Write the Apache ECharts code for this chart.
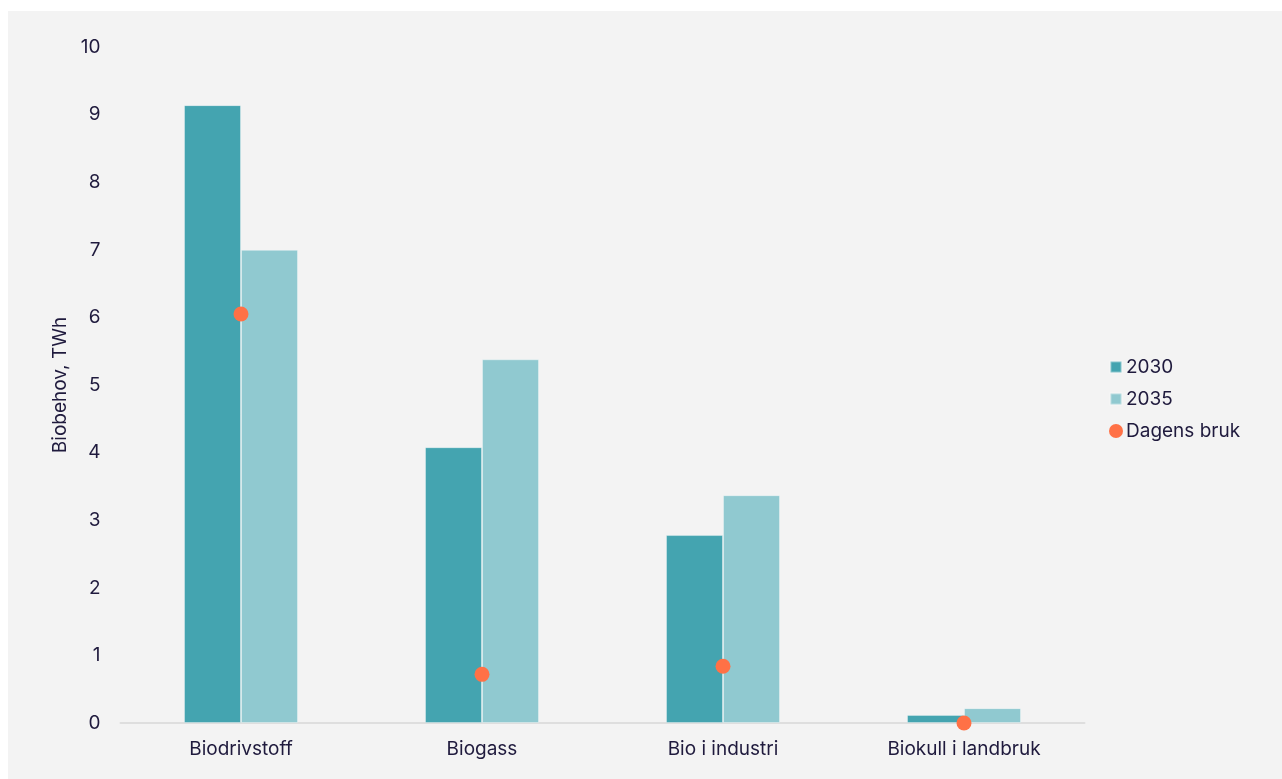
<!DOCTYPE html>
<html>
<head>
<meta charset="utf-8">
<script src="https://cdn.jsdelivr.net/npm/echarts@6/dist/echarts.min.js"></script>
<style>
  html, body { margin: 0; padding: 0; background: #ffffff; }
  #chart { position: absolute; left: 8px; top: 11px; width: 1274px; height: 768px; background: #f3f3f3; }
</style>
</head>
<body>
<div id="chart"></div>
<script>
// Bioenergy demand per use (TWh)
const categories = ['Biodrivstoff', 'Biogass', 'Bio i industri', 'Biokull i landbruk'];
const demand2030 = [9.14, 4.08, 2.78, 0.12];
const demand2035 = [7.0, 5.38, 3.37, 0.22];
const currentUse = [6.05, 0.72, 0.84, 0.0];
const yTicks = { min: 0, max: 10, interval: 1 };

const textColor = '#1f1a3d';
const fontFamily = 'Inter, "Noto Sans", sans-serif';
// small square centred in a 14x14 legend box
const smallSquare = 'path://M0,0L0.01,0ZM14,14L13.99,14ZM1.5,1.5h11v11h-11z';

const chart = echarts.init(document.getElementById('chart'), null, { renderer: 'canvas' });
chart.setOption({
  backgroundColor: '#f3f3f3',
  textStyle: { fontFamily: fontFamily, color: textColor },
  grid: { left: 112.5, top: 36, width: 964, height: 676, containLabel: false },
  legend: {
    orient: 'vertical',
    left: 1095,
    top: 341,
    itemGap: 12,
    itemWidth: 14,
    itemHeight: 14,
    textStyle: { fontSize: 19, color: textColor, fontFamily: fontFamily, lineHeight: 20, padding: [0, 0, 0, -2] },
    data: [
      { name: '2030', icon: smallSquare },
      { name: '2035', icon: smallSquare },
      { name: 'Dagens bruk', icon: 'circle' }
    ]
  },
  xAxis: {
    type: 'category',
    data: categories,
    axisLine: { show: true, lineStyle: { color: '#dedede', width: 2 } },
    axisTick: { show: false },
    axisLabel: { fontSize: 19, color: textColor, margin: 17, fontFamily: fontFamily },
    splitLine: { show: false }
  },
  yAxis: {
    type: 'value',
    min: yTicks.min,
    max: yTicks.max,
    interval: yTicks.interval,
    name: 'Biobehov, TWh',
    nameLocation: 'middle',
    nameGap: 46,
    nameRotate: 90,
    nameTextStyle: { fontSize: 19, color: textColor, fontFamily: fontFamily },
    axisLine: { show: false },
    axisTick: { show: false },
    splitLine: { show: false },
    axisLabel: { fontSize: 19, color: textColor, margin: 20, fontFamily: fontFamily }
  },
  series: [
    {
      name: '2030',
      type: 'bar',
      data: demand2030,
      barWidth: 57,
      barGap: '0%',
      itemStyle: { color: '#44a4b0', borderColor: 'rgba(255,255,255,0.35)', borderWidth: 1 }
    },
    {
      name: '2035',
      type: 'bar',
      data: demand2035,
      barWidth: 57,
      barGap: '0%',
      itemStyle: { color: '#90c9d0', borderColor: 'rgba(255,255,255,0.35)', borderWidth: 1 }
    },
    {
      name: 'Dagens bruk',
      type: 'scatter',
      data: currentUse,
      symbol: 'circle',
      symbolSize: 15,
      z: 5,
      itemStyle: { color: '#ff7146', opacity: 1 }
    }
  ]
});
</script>
</body>
</html>
